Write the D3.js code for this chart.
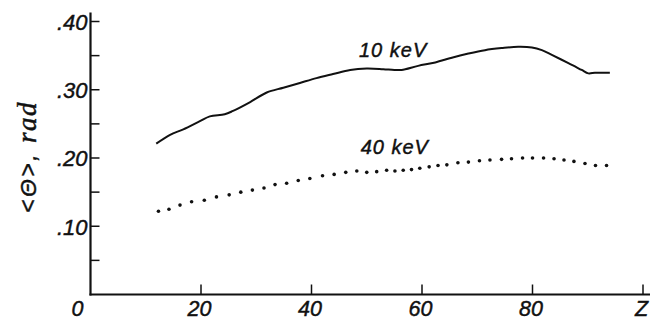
<!DOCTYPE html>
<html>
<head>
<meta charset="utf-8">
<script src="https://cdn.jsdelivr.net/npm/d3@7/dist/d3.min.js"></script>
<style>
  html, body { margin: 0; padding: 0; background: #fff; }
  svg { display: block; }
  text { font-family: "Liberation Sans", Arial, sans-serif; font-style: italic; fill: #111; stroke: #111; stroke-width: 0.45px; }
</style>
</head>
<body>
<svg id="chart" width="658" height="320"></svg>
<script>
// ---- data ----
const z10 = [11.9, 14.4, 16.8, 19.8, 21.6, 24.3, 25.8, 28.9, 31.9, 34.9, 37.9, 40.9, 43.9, 47.0, 50.0, 53.0, 55.0, 56.3, 59.3, 62.4, 65.4, 68.4, 71.4, 74.4, 77.4, 79.9, 81.7, 83.5, 86.5, 88.9, 90.1, 91.3, 92.5, 94.0];
const theta10 = [0.221, 0.234, 0.242, 0.254, 0.261, 0.264, 0.269, 0.282, 0.296, 0.303, 0.310, 0.317, 0.323, 0.329, 0.331, 0.330, 0.329, 0.329, 0.335, 0.340, 0.347, 0.353, 0.358, 0.361, 0.363, 0.362, 0.358, 0.351, 0.339, 0.329, 0.324, 0.325, 0.325, 0.325];

const z40 = [12.3, 14.2, 16.2, 18.3, 20.6, 22.8, 25.1, 27.2, 29.3, 31.4, 33.4, 35.5, 37.6, 39.7, 42.0, 44.1, 46.2, 48.2, 50.0, 51.8, 53.6, 55.1, 56.6, 58.1, 59.6, 61.3, 62.9, 64.5, 66.5, 68.4, 70.4, 72.3, 74.4, 76.2, 78.2, 80.0, 82.0, 83.9, 85.7, 87.5, 89.5, 91.4, 93.4];
const theta40 = [0.122, 0.125, 0.131, 0.136, 0.138, 0.143, 0.146, 0.150, 0.153, 0.156, 0.161, 0.163, 0.167, 0.170, 0.174, 0.176, 0.179, 0.181, 0.179, 0.180, 0.182, 0.181, 0.182, 0.183, 0.185, 0.187, 0.189, 0.190, 0.193, 0.194, 0.196, 0.197, 0.198, 0.199, 0.200, 0.200, 0.200, 0.199, 0.197, 0.195, 0.192, 0.189, 0.189];

const xTickValues = [0, 20, 40, 60, 80, 100];
const xTickLabels = ["0", "20", "40", "60", "80", "Z"];
const yMajorTicks = [0.10, 0.20, 0.30, 0.40];
const yMajorLabels = [".10", ".20", ".30", ".40"];
const yAllTicks = [0.05, 0.10, 0.15, 0.20, 0.25, 0.30, 0.35, 0.40];
const seriesLabels = ["10 keV", "40 keV"];
const seriesLabelPos = [[48.6, 0.348], [48.9, 0.206]];
const yTitleSymbol = "<\u0398>, ";
const yTitleUnit = "rad";

// ---- scales ----
const x = d3.scaleLinear().domain([0, 100]).range([90.5, 643]);
const y = d3.scaleLinear().domain([0, 0.4]).range([294.5, 21.5]);

const svg = d3.select("#chart");

// axes lines
svg.append("line")
  .attr("x1", x(0)).attr("x2", x(0))
  .attr("y1", y(0) + 1).attr("y2", y(0.4) - 9)
  .attr("stroke", "#111").attr("stroke-width", 2.2);
svg.append("line")
  .attr("x1", x(0) - 1).attr("x2", x(100) + 7)
  .attr("y1", y(0)).attr("y2", y(0))
  .attr("stroke", "#111").attr("stroke-width", 2.2);

// y ticks (inside)
svg.append("g").selectAll("line").data(yAllTicks).join("line")
  .attr("x1", x(0)).attr("x2", x(0) + 9)
  .attr("y1", d => y(d)).attr("y2", d => y(d))
  .attr("stroke", "#111").attr("stroke-width", 1.5);

// x ticks (inside)
svg.append("g").selectAll("line").data(xTickValues.filter(d => d > 0)).join("line")
  .attr("x1", d => x(d)).attr("x2", d => x(d))
  .attr("y1", y(0)).attr("y2", y(0) - 10)
  .attr("stroke", "#111").attr("stroke-width", 1.5);

// y tick labels
svg.append("g").selectAll("text").data(yMajorTicks).join("text")
  .attr("x", x(0) - 3)
  .attr("y", d => y(d))
  .attr("dy", "0.38em")
  .attr("text-anchor", "end")
  .style("font-size", "22px")
  .text((d, i) => yMajorLabels[i]);

// x tick labels
svg.append("g").selectAll("text").data(xTickValues).join("text")
  .attr("x", d => d === 0 ? x(d) - 13 : x(d) - 1.5)
  .attr("y", 315.5)
  .attr("text-anchor", "middle")
  .style("font-size", "21.5px")
  .text((d, i) => xTickLabels[i]);

// y title
const yt = svg.append("text")
  .attr("transform", `translate(36,157) rotate(-90)`)
  .attr("text-anchor", "middle")
  .style("font-size", "23px")
  .style("letter-spacing", "2.5px");
yt.append("tspan").text(yTitleSymbol);
yt.append("tspan")
  .style("font-family", "'Liberation Serif', serif")
  .style("font-size", "27px")
  .style("letter-spacing", "1.5px")
  .text(yTitleUnit);

// 10 keV solid line
const data10 = z10.map((d, i) => [d, theta10[i]]);
svg.append("path")
  .datum(data10)
  .attr("fill", "none")
  .attr("stroke", "#111")
  .attr("stroke-width", 2)
  .attr("stroke-linejoin", "round")
  .attr("d", d3.line().x(d => x(d[0])).y(d => y(d[1])).curve(d3.curveCatmullRom));

// 40 keV dotted
svg.append("g").selectAll("circle").data(z40).join("circle")
  .attr("cx", d => x(d))
  .attr("cy", (d, i) => y(theta40[i]))
  .attr("r", 1.8)
  .attr("fill", "#111");

// series labels
svg.append("g").selectAll("text").data(seriesLabels).join("text")
  .attr("x", (d, i) => x(seriesLabelPos[i][0]))
  .attr("y", (d, i) => y(seriesLabelPos[i][1]))
  .style("font-size", "20px")
  .style("letter-spacing", "1px")
  .text(d => d);
</script>
</body>
</html>
